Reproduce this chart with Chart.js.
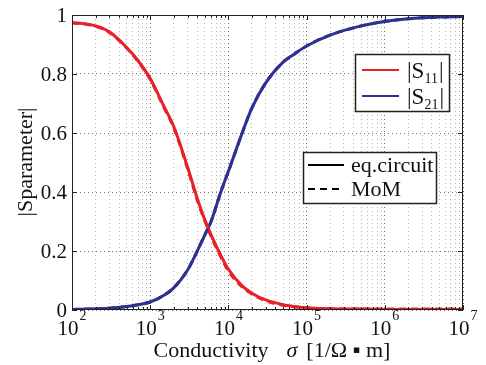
<!DOCTYPE html>
<html>
<head>
<meta charset="utf-8">
<script src="https://cdn.jsdelivr.net/npm/chart.js@4/dist/chart.umd.min.js"></script>
<style>
  html,body{margin:0;padding:0;background:#fff;}
  #wrap{width:486px;height:365px;}
</style>
</head>
<body>
<div id="wrap"><canvas id="sChart" width="486" height="365"></canvas></div>
<script>
// conductivity sigma [1/Ohm m]
const sigma = [1e2, 2e2, 3e2, 5e2, 7e2, 1e3, 1.5e3, 2e3, 3e3, 4e3, 5e3, 6e3, 8e3, 1e4, 1.5e4, 2e4, 3e4, 5e4, 7e4, 1e5, 2e5, 5e5, 1e6, 2e6, 5e6, 1e7];
const s11Circuit = [0.975, 0.963, 0.943, 0.89, 0.845, 0.785, 0.69, 0.622, 0.485, 0.378, 0.305, 0.255, 0.185, 0.138, 0.082, 0.057, 0.034, 0.018, 0.012, 0.008, 0.004, 0.003, 0.002, 0.002, 0.002, 0.002];
const s11MoM     = [0.974, 0.962, 0.941, 0.888, 0.842, 0.782, 0.686, 0.618, 0.48, 0.372, 0.302, 0.25, 0.18, 0.132, 0.078, 0.054, 0.031, 0.016, 0.011, 0.007, 0.004, 0.003, 0.003, 0.003, 0.003, 0.003];
const s21Circuit = [0.002, 0.004, 0.006, 0.012, 0.018, 0.027, 0.05, 0.075, 0.135, 0.2, 0.255, 0.3, 0.4, 0.47, 0.6, 0.685, 0.77, 0.84, 0.868, 0.895, 0.932, 0.963, 0.978, 0.987, 0.993, 0.995];
const s21MoM     = [0.002, 0.004, 0.006, 0.012, 0.018, 0.027, 0.05, 0.075, 0.135, 0.2, 0.255, 0.3, 0.4, 0.47, 0.6, 0.685, 0.77, 0.84, 0.868, 0.895, 0.932, 0.963, 0.978, 0.987, 0.993, 0.995];
const xExponents = [2, 3, 4, 5, 6, 7];
const yTicks = [0, 0.2, 0.4, 0.6, 0.8, 1];
const yTickLabels = ['0', '0.2', '0.4', '0.6', '0.8', '1'];

const RED = '#e8202a', BLUE = '#2e3192';
const SERIF = '"Liberation Serif", "Times New Roman", serif';
const pts = ys => sigma.map((x, i) => ({x, y: ys[i]}));

// all 1..9 x 10^n values for the log grid
const logTicks = [];
xExponents.forEach(e => {
  for (let m = 1; m <= 9; m++) {
    const v = m * Math.pow(10, e);
    if (v <= 1e7) logTicks.push(v);
  }
});
const isDecade = v => Math.abs(Math.log10(v) % 1) < 1e-9;

const decor = {
  id: 'decor',
  afterDraw(chart){
    const ctx = chart.ctx, a = chart.chartArea;
    const xs = chart.scales.x, ys = chart.scales.y;
    ctx.save();
    // frame
    ctx.strokeStyle = '#222'; ctx.lineWidth = 1;
    ctx.strokeRect(a.left + 0.5, a.top + 0.5, a.right - a.left - 1, a.bottom - a.top - 1);
    // inward ticks
    ctx.beginPath();
    logTicks.forEach(v => {
      const px = Math.round(xs.getPixelForValue(v)) + 0.5;
      const len = isDecade(v) ? 5 : 3;
      ctx.moveTo(px, a.bottom); ctx.lineTo(px, a.bottom - len);
      ctx.moveTo(px, a.top); ctx.lineTo(px, a.top + len);
    });
    yTicks.forEach(v => {
      const py = Math.round(ys.getPixelForValue(v)) + 0.5;
      ctx.moveTo(a.left, py); ctx.lineTo(a.left + 5, py);
      ctx.moveTo(a.right, py); ctx.lineTo(a.right - 5, py);
    });
    ctx.stroke();

    ctx.fillStyle = '#111';
    // y tick labels
    ctx.font = '21px ' + SERIF;
    ctx.textAlign = 'right'; ctx.textBaseline = 'middle';
    yTicks.forEach((v, i) => ctx.fillText(yTickLabels[i], a.left - 5, ys.getPixelForValue(v) + 1));

    // x tick labels 10^n
    ctx.textBaseline = 'alphabetic'; ctx.textAlign = 'left';
    xExponents.forEach(e => {
      const px = xs.getPixelForValue(Math.pow(10, e));
      ctx.font = '21px ' + SERIF;
      const wb = ctx.measureText('10').width;
      ctx.font = '14px ' + SERIF;
      const we = ctx.measureText(String(e)).width;
      const x0 = px - (wb + we + 1) / 2;
      ctx.font = '21px ' + SERIF;
      ctx.fillText('10', x0, 335);
      ctx.font = '14px ' + SERIF;
      ctx.fillText(String(e), x0 + wb + 1, 320);
    });

    // x title
    const parts = [
      {t: 'Conductivity', f: '22px ' + SERIF, gap: 18},
      {t: 'σ', f: 'italic 22px ' + SERIF, gap: 9},
      {t: '[1/Ω ▪ m]', f: '22px ' + SERIF, gap: 0}
    ];
    let total = 0;
    parts.forEach(p => { ctx.font = p.f; p.w = ctx.measureText(p.t).width; total += p.w + p.gap; });
    let cx = 272 - total / 2;
    parts.forEach(p => { ctx.font = p.f; ctx.fillText(p.t, cx, 357); cx += p.w + p.gap; });

    // y title
    ctx.save();
    ctx.translate(32, 162);
    ctx.rotate(-Math.PI / 2);
    ctx.textAlign = 'center';
    ctx.font = '22px ' + SERIF;
    ctx.fillText('|Sparameter|', 0, 0);
    ctx.restore();

    // legend 1: colours
    const ds = chart.data.datasets;
    ctx.fillStyle = '#fff'; ctx.fillRect(355, 54, 94, 57);
    ctx.strokeStyle = '#222'; ctx.lineWidth = 1.5;
    ctx.strokeRect(355.5, 54.5, 94, 57);
    [[ds[2], '11', 70], [ds[3], '21', 96]].forEach(([d, sub, y]) => {
      ctx.strokeStyle = d.borderColor; ctx.lineWidth = 2; ctx.setLineDash([]);
      ctx.beginPath(); ctx.moveTo(362, y); ctx.lineTo(399, y); ctx.stroke();
      ctx.fillStyle = '#111'; ctx.textAlign = 'left';
      ctx.font = '23px ' + SERIF;
      ctx.fillText('|S', 407, y + 8);
      let w = ctx.measureText('|S').width;
      ctx.font = '14px ' + SERIF;
      ctx.fillText(sub, 407 + w, y + 13);
      w += ctx.measureText(sub).width;
      ctx.font = '23px ' + SERIF;
      ctx.fillText('|', 408 + w, y + 8);
    });

    // legend 2: line styles
    ctx.fillStyle = '#fff'; ctx.fillRect(303, 152, 133, 51);
    ctx.strokeStyle = '#222'; ctx.lineWidth = 1.5; ctx.setLineDash([]);
    ctx.strokeRect(303.5, 152.5, 133, 51);
    [[[], 'eq.circuit', 165], [ds[0].borderDash, 'MoM', 189]].forEach(([dash, label, y]) => {
      ctx.strokeStyle = '#000'; ctx.lineWidth = 2; ctx.setLineDash(dash);
      ctx.beginPath(); ctx.moveTo(308, y); ctx.lineTo(344, y); ctx.stroke();
      ctx.setLineDash([]);
      ctx.fillStyle = '#111'; ctx.font = '22px ' + SERIF; ctx.textAlign = 'left';
      ctx.fillText(label, 351, y + 7);
    });
    ctx.restore();
  }
};

const lineBase = {pointRadius: 0, fill: false, borderWidth: 3, cubicInterpolationMode: 'monotone'};

new Chart(document.getElementById('sChart').getContext('2d'), {
  type: 'line',
  data: {
    datasets: [
      {...lineBase, label: '|S11| MoM', data: pts(s11MoM), borderColor: RED, borderDash: [7, 5], order: 0},
      {...lineBase, label: '|S21| MoM', data: pts(s21MoM), borderColor: BLUE, borderDash: [7, 5], order: 0},
      {...lineBase, label: '|S11|', data: pts(s11Circuit), borderColor: RED, order: 1},
      {...lineBase, label: '|S21|', data: pts(s21Circuit), borderColor: BLUE, order: 1}
    ]
  },
  options: {
    responsive: false,
    animation: false,
    devicePixelRatio: 1,
    layout: {padding: {left: 72, top: 15, right: 23, bottom: 55}},
    plugins: {legend: {display: false}, tooltip: {enabled: false}},
    scales: {
      x: {
        type: 'logarithmic', min: 1e2, max: 1e7,
        afterBuildTicks: s => { s.ticks = logTicks.map(v => ({value: v})); },
        ticks: {display: false},
        grid: {
          drawTicks: false,
          color: c => (isDecade(c.tick.value) ? '#6a6a6a' : '#b4b4b4'),
          lineWidth: 1
        },
        border: {display: false, dash: [1, 3]}
      },
      y: {
        min: 0, max: 1,
        afterBuildTicks: s => { s.ticks = yTicks.map(v => ({value: v})); },
        ticks: {display: false},
        grid: {drawTicks: false, color: '#7a7a7a', lineWidth: 1},
        border: {display: false, dash: [1, 3]}
      }
    }
  },
  plugins: [decor]
});
</script>
</body>
</html>
